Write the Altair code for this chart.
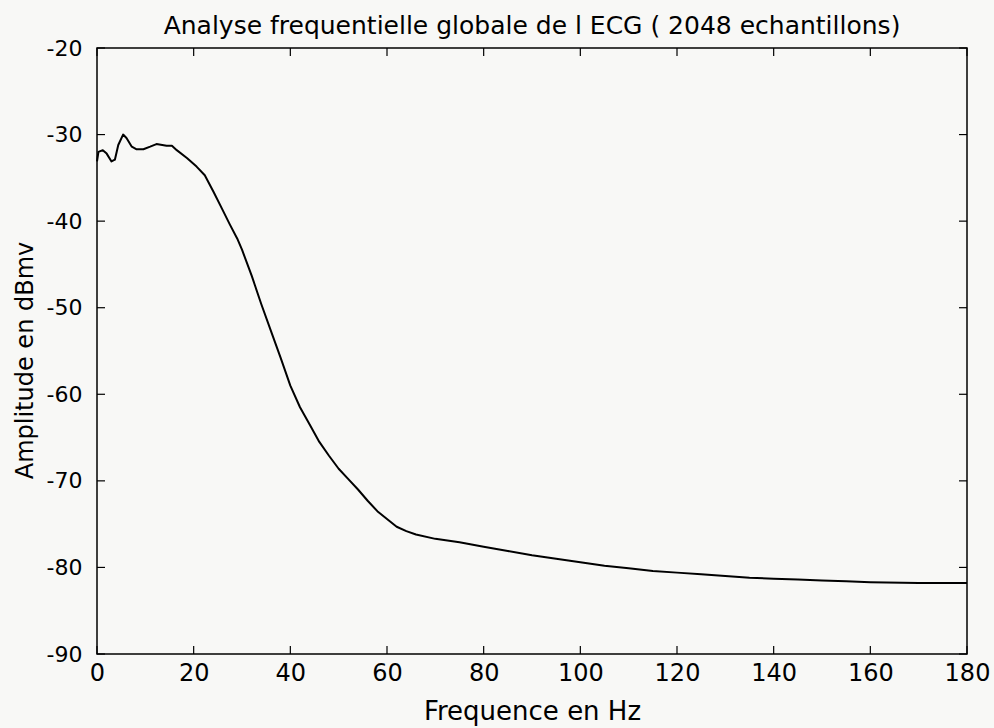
import altair as alt
import pandas as pd

# Spectre global de l'ECG (2048 echantillons)
freq_hz = [0, 0.3, 1.2, 2.0, 3.0, 3.7, 4.4, 5.4, 6.1, 7.2, 8.2, 9.6, 11.0, 12.3,
           14.4, 15.5, 16.5, 18.6, 20.6, 22.3, 24.1, 25.8, 27.5, 29, 30, 32, 34,
           36, 38, 40, 42, 44, 46, 48, 50, 52, 54, 56, 58, 60, 62, 64, 66, 70, 75,
           80, 85, 90, 95, 100, 105, 110, 115, 120, 125, 130, 135, 140, 145, 150,
           155, 160, 170, 180]
amp_dbmv = [-33.1, -32.0, -31.8, -32.2, -33.1, -32.9, -31.2, -30.0, -30.4, -31.4,
            -31.7, -31.7, -31.4, -31.1, -31.3, -31.3, -31.8, -32.7, -33.7, -34.7,
            -36.6, -38.5, -40.4, -42.0, -43.3, -46.3, -49.6, -52.7, -55.8, -59.0,
            -61.5, -63.5, -65.5, -67.1, -68.6, -69.8, -71.0, -72.3, -73.5, -74.4,
            -75.3, -75.8, -76.2, -76.7, -77.1, -77.6, -78.1, -78.6, -79.0, -79.4,
            -79.8, -80.1, -80.4, -80.6, -80.8, -81.0, -81.2, -81.3, -81.4, -81.5,
            -81.6, -81.7, -81.8, -81.8]

x_ticks = [0, 20, 40, 60, 80, 100, 120, 140, 160, 180]
y_ticks = [-90, -80, -70, -60, -50, -40, -30, -20]

W, H = 870, 606
TICK = 8
FONT = "DejaVu Sans"
# tirets ASCII pour les nombres negatifs
PLAIN = "'' + datum.value"

spectrum = pd.DataFrame({"f": freq_hz, "a": amp_dbmv})
xt = pd.DataFrame({"f": x_ticks})
yt = pd.DataFrame({"a": y_ticks})

xs = alt.Scale(domain=[0, 180], nice=False, zero=False)
ys = alt.Scale(domain=[-90, -20], nice=False, zero=False)

line = alt.Chart(spectrum).mark_line(color="black", strokeWidth=2,
                                     strokeJoin="round").encode(
    x=alt.X("f:Q", scale=xs, title="Frequence en Hz",
            axis=alt.Axis(values=x_ticks, ticks=False, grid=False, domain=False,
                          labelExpr=PLAIN, labelFlush=False, labelOverlap=False,
                          labelFontSize=24, labelFont=FONT,
                          labelColor="black", labelPadding=7,
                          titleFontSize=26, titleFont=FONT,
                          titleFontWeight="normal", titleColor="black",
                          titlePadding=13)),
    y=alt.Y("a:Q", scale=ys, title="Amplitude en dBmv",
            axis=alt.Axis(values=y_ticks, ticks=False, grid=False, domain=False,
                          labelExpr=PLAIN, labelFlush=False, labelOverlap=False,
                          labelFontSize=22, labelFont=FONT,
                          labelColor="black", labelPadding=15,
                          titleFontSize=24, titleFont=FONT,
                          titleFontWeight="normal", titleColor="black",
                          titlePadding=9, titleY=312)),
)

# Graduations tournees vers l'interieur, sur les quatre cotes du cadre
tick_style = dict(color="black", strokeWidth=1.2)
x_bottom = alt.Chart(xt).mark_rule(**tick_style).encode(
    x=alt.X("f:Q", scale=xs), y=alt.value(H), y2=alt.value(H - TICK))
x_top = alt.Chart(xt).mark_rule(**tick_style).encode(
    x=alt.X("f:Q", scale=xs), y=alt.value(0), y2=alt.value(TICK))
y_left = alt.Chart(yt).mark_rule(**tick_style).encode(
    y=alt.Y("a:Q", scale=ys), x=alt.value(0), x2=alt.value(TICK))
y_right = alt.Chart(yt).mark_rule(**tick_style).encode(
    y=alt.Y("a:Q", scale=ys), x=alt.value(W), x2=alt.value(W - TICK))

chart = (
    alt.layer(line, x_bottom, x_top, y_left, y_right)
    .properties(
        width=W, height=H,
        title=alt.TitleParams("Analyse frequentielle globale de l ECG ( 2048 echantillons)",
                              font=FONT, fontSize=25, fontWeight="normal",
                              color="black", offset=-2),
        autosize=alt.AutoSizeParams(type="none"),
        padding={"left": 97, "top": 48, "right": 27, "bottom": 74},
        background="#f8f8f6",
    )
    .configure_view(stroke="black", strokeWidth=1.5)
)

chart.save("out.html", embed_options={"renderer": "svg", "actions": False})
